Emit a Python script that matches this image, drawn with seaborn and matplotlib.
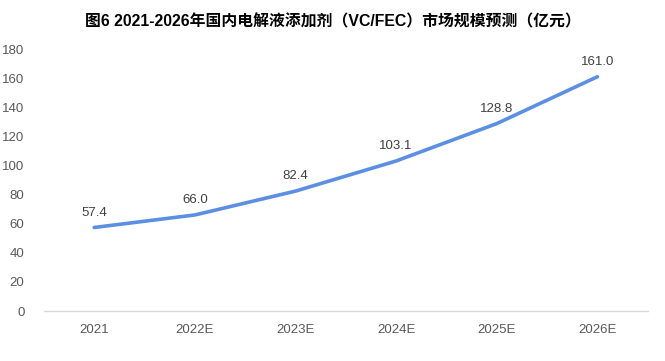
import pandas as pd
import matplotlib.pyplot as plt
import seaborn as sns

sns.set_style("white")
plt.rcParams["font.family"] = ["Liberation Sans", "Noto Sans CJK SC", "DejaVu Sans"]

# --------------------------------------------------
# Data
# --------------------------------------------------

years = ["2021", "2022E", "2023E", "2024E", "2025E", "2026E"]
market_size = [57.4, 66.0, 82.4, 103.1, 128.8, 161.0]

title = "图6 2021-2026年国内电解液添加剂（VC/FEC）市场规模预测（亿元）"

df = pd.DataFrame({"Year": years, "Size": market_size})

# --------------------------------------------------
# Plot
# --------------------------------------------------

fig = plt.figure(figsize=(6.65, 3.61), dpi=100)
ax = fig.add_axes([0.066, 0.1385, 0.908, 0.7255])

sns.lineplot(data=df, x="Year", y="Size", ax=ax, color="#5B8FE3",
             linewidth=2.6, sort=False)

for i, v in enumerate(market_size):
    ax.text(i, v + 6, f"{v:.1f}", ha="center", va="bottom",
            fontsize=9.5, color="#404040")

ax.set_xlim(-0.5, 5.5)
ax.set_ylim(0, 180)
ax.set_yticks(range(0, 181, 20))
ax.set_xlabel("")
ax.set_ylabel("")

for side in ["top", "right", "left"]:
    ax.spines[side].set_visible(False)
ax.spines["bottom"].set_color("#D9D9D9")
ax.spines["bottom"].set_linewidth(1)

ax.tick_params(axis="both", length=0, labelsize=9.5, labelcolor="#595959")
ax.tick_params(axis="x", pad=9)
ax.tick_params(axis="y", pad=14)

fig.text(0.5, 0.94, title, ha="center", va="center",
         fontsize=11.4, fontweight="bold", color="#000000")

plt.savefig("out.png", dpi=100)
plt.close()
